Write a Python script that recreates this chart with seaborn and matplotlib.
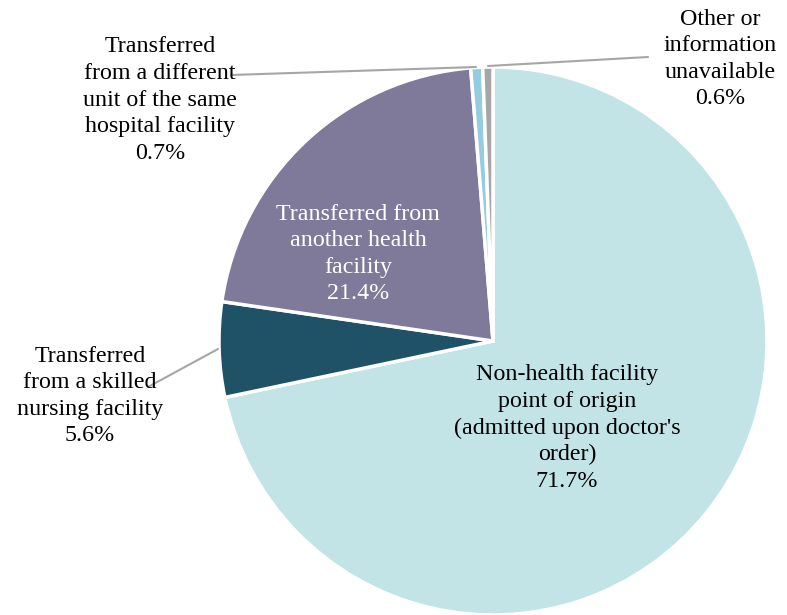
import matplotlib
matplotlib.use("Agg")
import matplotlib.pyplot as plt
import seaborn as sns

# data, clockwise from 12 o'clock
labels = [
    "Non-health facility\npoint of origin\n(admitted upon doctor's\norder)",
    "Transferred\nfrom a skilled\nnursing facility",
    "Transferred from\nanother health\nfacility",
    "Transferred\nfrom a different\nunit of the same\nhospital facility",
    "Other or\ninformation\nunavailable",
]
shares = [71.7, 5.6, 21.4, 0.7, 0.6]
colors = ["#C2E4E6", "#1F5167", "#7F7A99", "#93CDDF", "#A6A6A6"]

sns.set_theme(style="white")
plt.rcParams['font.family'] = ['Liberation Serif', 'DejaVu Serif']

W, H = 787, 615
cx, cy, R = 493, 341, 274

fig = plt.figure(figsize=(W / 100, H / 100), dpi=100)
ax = fig.add_axes([(cx - R) / W, (H - cy - R) / H, 2 * R / W, 2 * R / H])
ax.pie(shares, colors=colors, startangle=90, counterclock=False, radius=1,
       wedgeprops=dict(edgecolor="white", linewidth=2.5))
ax.set_xlim(-1, 1)
ax.set_ylim(-1, 1)
ax.set_aspect("equal")
ax.axis("off")


def to_data(px, py):
    return (px - cx) / R, (cy - py) / R


# label positions in pixels of the reference image
label_pos = [(567, 428), (90, 396), (358, 254), (160, 100), (720, 59)]
text_colors = ["black", "black", "white", "black", "black"]
for lab, val, (px, py), tc in zip(labels, shares, label_pos, text_colors):
    x, y = to_data(px, py)
    ax.text(x, y, f"{lab}\n{val:.1f}%", ha="center", va="center", fontsize=17.3,
            color=tc, linespacing=1.35, clip_on=False)

# leader lines
leaders = [((218, 349), (148, 387)), ((476, 67), (231, 75)), ((488, 66), (648, 57))]
for p0, p1 in leaders:
    x0, y0 = to_data(*p0)
    x1, y1 = to_data(*p1)
    ax.plot([x0, x1], [y0, y1], color="#A6A6A6", lw=1.5, clip_on=False)

fig.savefig("out.png", dpi=100)
